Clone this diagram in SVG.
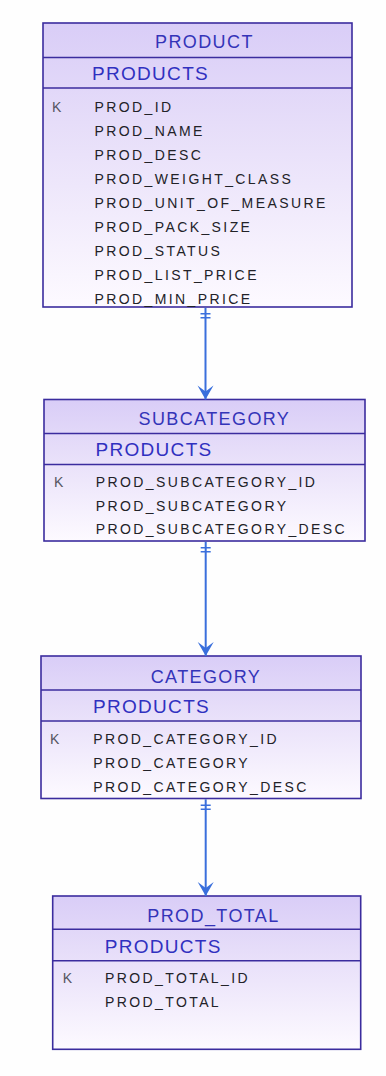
<svg xmlns="http://www.w3.org/2000/svg" width="386" height="1076" viewBox="0 0 386 1076">
  <defs>
    <linearGradient id="entityFill" x1="0" y1="0" x2="0" y2="1">
      <stop offset="0" stop-color="#d9cdf7"/>
      <stop offset="0.35" stop-color="#e6ddf9"/>
      <stop offset="1" stop-color="#fdfaff"/>
    </linearGradient>
    <marker id="oneMark" markerUnits="userSpaceOnUse" markerWidth="20" markerHeight="20" refX="0" refY="0" orient="auto" overflow="visible">
      <path d="M6,-5 L6,5 M10,-5 L10,5" stroke="#3a6fdc" stroke-width="1.6" fill="none"/>
    </marker>
    <marker id="arrowHead" markerUnits="userSpaceOnUse" markerWidth="20" markerHeight="20" refX="0" refY="0" orient="auto" overflow="visible">
      <path d="M0,0 L-14,-8 L-8,0 L-14,8 Z" fill="#3a6fdc"/>
    </marker>
    <style>
      .box { fill: url(#entityFill); stroke: #3b2c9e; stroke-width: 1.6; }
      .div { stroke: #3b2c9e; stroke-width: 1.6; }
      .title { font-family: "Liberation Sans", Arial, sans-serif; font-size: 18px; letter-spacing: 1.4px; fill: #3434b8; }
      .schema { font-family: "Liberation Sans", Arial, sans-serif; font-size: 19px; letter-spacing: 1.3px; fill: #3030c0; }
      .field { font-family: "Liberation Sans", Arial, sans-serif; font-size: 14px; letter-spacing: 2.4px; fill: #222228; }
      .key { font-family: "Liberation Sans", Arial, sans-serif; font-size: 14px; fill: #555560; }
      .conn { stroke: #3a6fdc; stroke-width: 2; fill: none; }
    </style>
  </defs>

  <rect x="0" y="0" width="386" height="1076" fill="#fefefe"/>

  <!-- PRODUCT entity -->
  <g id="product">
    <rect class="box" x="43" y="23" width="309" height="284"/>
    <line class="div" x1="43" y1="57.5" x2="352" y2="57.5"/>
    <line class="div" x1="43" y1="88" x2="352" y2="88"/>
    <text class="title" x="155" y="48">PRODUCT</text>
    <text class="schema" x="92" y="80">PRODUCTS</text>
    <text class="key" x="52" y="111.5">K</text>
    <text class="field" x="94.5" y="111.5">PROD_ID</text>
    <text class="field" x="94.5" y="135.6">PROD_NAME</text>
    <text class="field" x="94.5" y="159.7">PROD_DESC</text>
    <text class="field" x="94.5" y="183.8">PROD_WEIGHT_CLASS</text>
    <text class="field" x="94.5" y="207.9">PROD_UNIT_OF_MEASURE</text>
    <text class="field" x="94.5" y="232">PROD_PACK_SIZE</text>
    <text class="field" x="94.5" y="256.1">PROD_STATUS</text>
    <text class="field" x="94.5" y="280.2">PROD_LIST_PRICE</text>
    <text class="field" x="94.5" y="304.3">PROD_MIN_PRICE</text>
  </g>

  <!-- SUBCATEGORY entity -->
  <g id="subcategory">
    <rect class="box" x="44" y="399.5" width="321" height="141.5"/>
    <line class="div" x1="44" y1="433.5" x2="365" y2="433.5"/>
    <line class="div" x1="44" y1="464.5" x2="365" y2="464.5"/>
    <text class="title" x="138.5" y="425">SUBCATEGORY</text>
    <text class="schema" x="95.5" y="456">PRODUCTS</text>
    <text class="key" x="54" y="487.3">K</text>
    <text class="field" x="95.7" y="487.3">PROD_SUBCATEGORY_ID</text>
    <text class="field" x="95.7" y="510.8">PROD_SUBCATEGORY</text>
    <text class="field" x="95.7" y="534.3">PROD_SUBCATEGORY_DESC</text>
  </g>

  <!-- CATEGORY entity -->
  <g id="category">
    <rect class="box" x="41" y="656" width="320" height="142.5"/>
    <line class="div" x1="41" y1="690" x2="361" y2="690"/>
    <line class="div" x1="41" y1="721" x2="361" y2="721"/>
    <text class="title" x="150.7" y="682.7">CATEGORY</text>
    <text class="schema" x="93" y="713.3">PRODUCTS</text>
    <text class="key" x="50" y="744">K</text>
    <text class="field" x="93.3" y="744">PROD_CATEGORY_ID</text>
    <text class="field" x="93.3" y="768">PROD_CATEGORY</text>
    <text class="field" x="93.3" y="792">PROD_CATEGORY_DESC</text>
  </g>

  <!-- PROD_TOTAL entity -->
  <g id="prod_total">
    <rect class="box" x="52.7" y="896" width="308" height="153.3"/>
    <line class="div" x1="52.7" y1="929.3" x2="360.7" y2="929.3"/>
    <line class="div" x1="52.7" y1="960.7" x2="360.7" y2="960.7"/>
    <text class="title" x="147.3" y="921.7">PROD_TOTAL</text>
    <text class="schema" x="104.7" y="952.7">PRODUCTS</text>
    <text class="key" x="62.7" y="983.3">K</text>
    <text class="field" x="105" y="983.3">PROD_TOTAL_ID</text>
    <text class="field" x="105" y="1007">PROD_TOTAL</text>
  </g>

  <!-- relationships: one-to-many, parent at the top -->
  <g id="connectors">
    <line class="conn" x1="205.5" y1="307.8" x2="205.5" y2="399.5" marker-start="url(#oneMark)" marker-end="url(#arrowHead)"/>
    <line class="conn" x1="205.7" y1="541.8" x2="205.7" y2="656" marker-start="url(#oneMark)" marker-end="url(#arrowHead)"/>
    <line class="conn" x1="205.7" y1="799.3" x2="205.7" y2="896" marker-start="url(#oneMark)" marker-end="url(#arrowHead)"/>
  </g>
</svg>
